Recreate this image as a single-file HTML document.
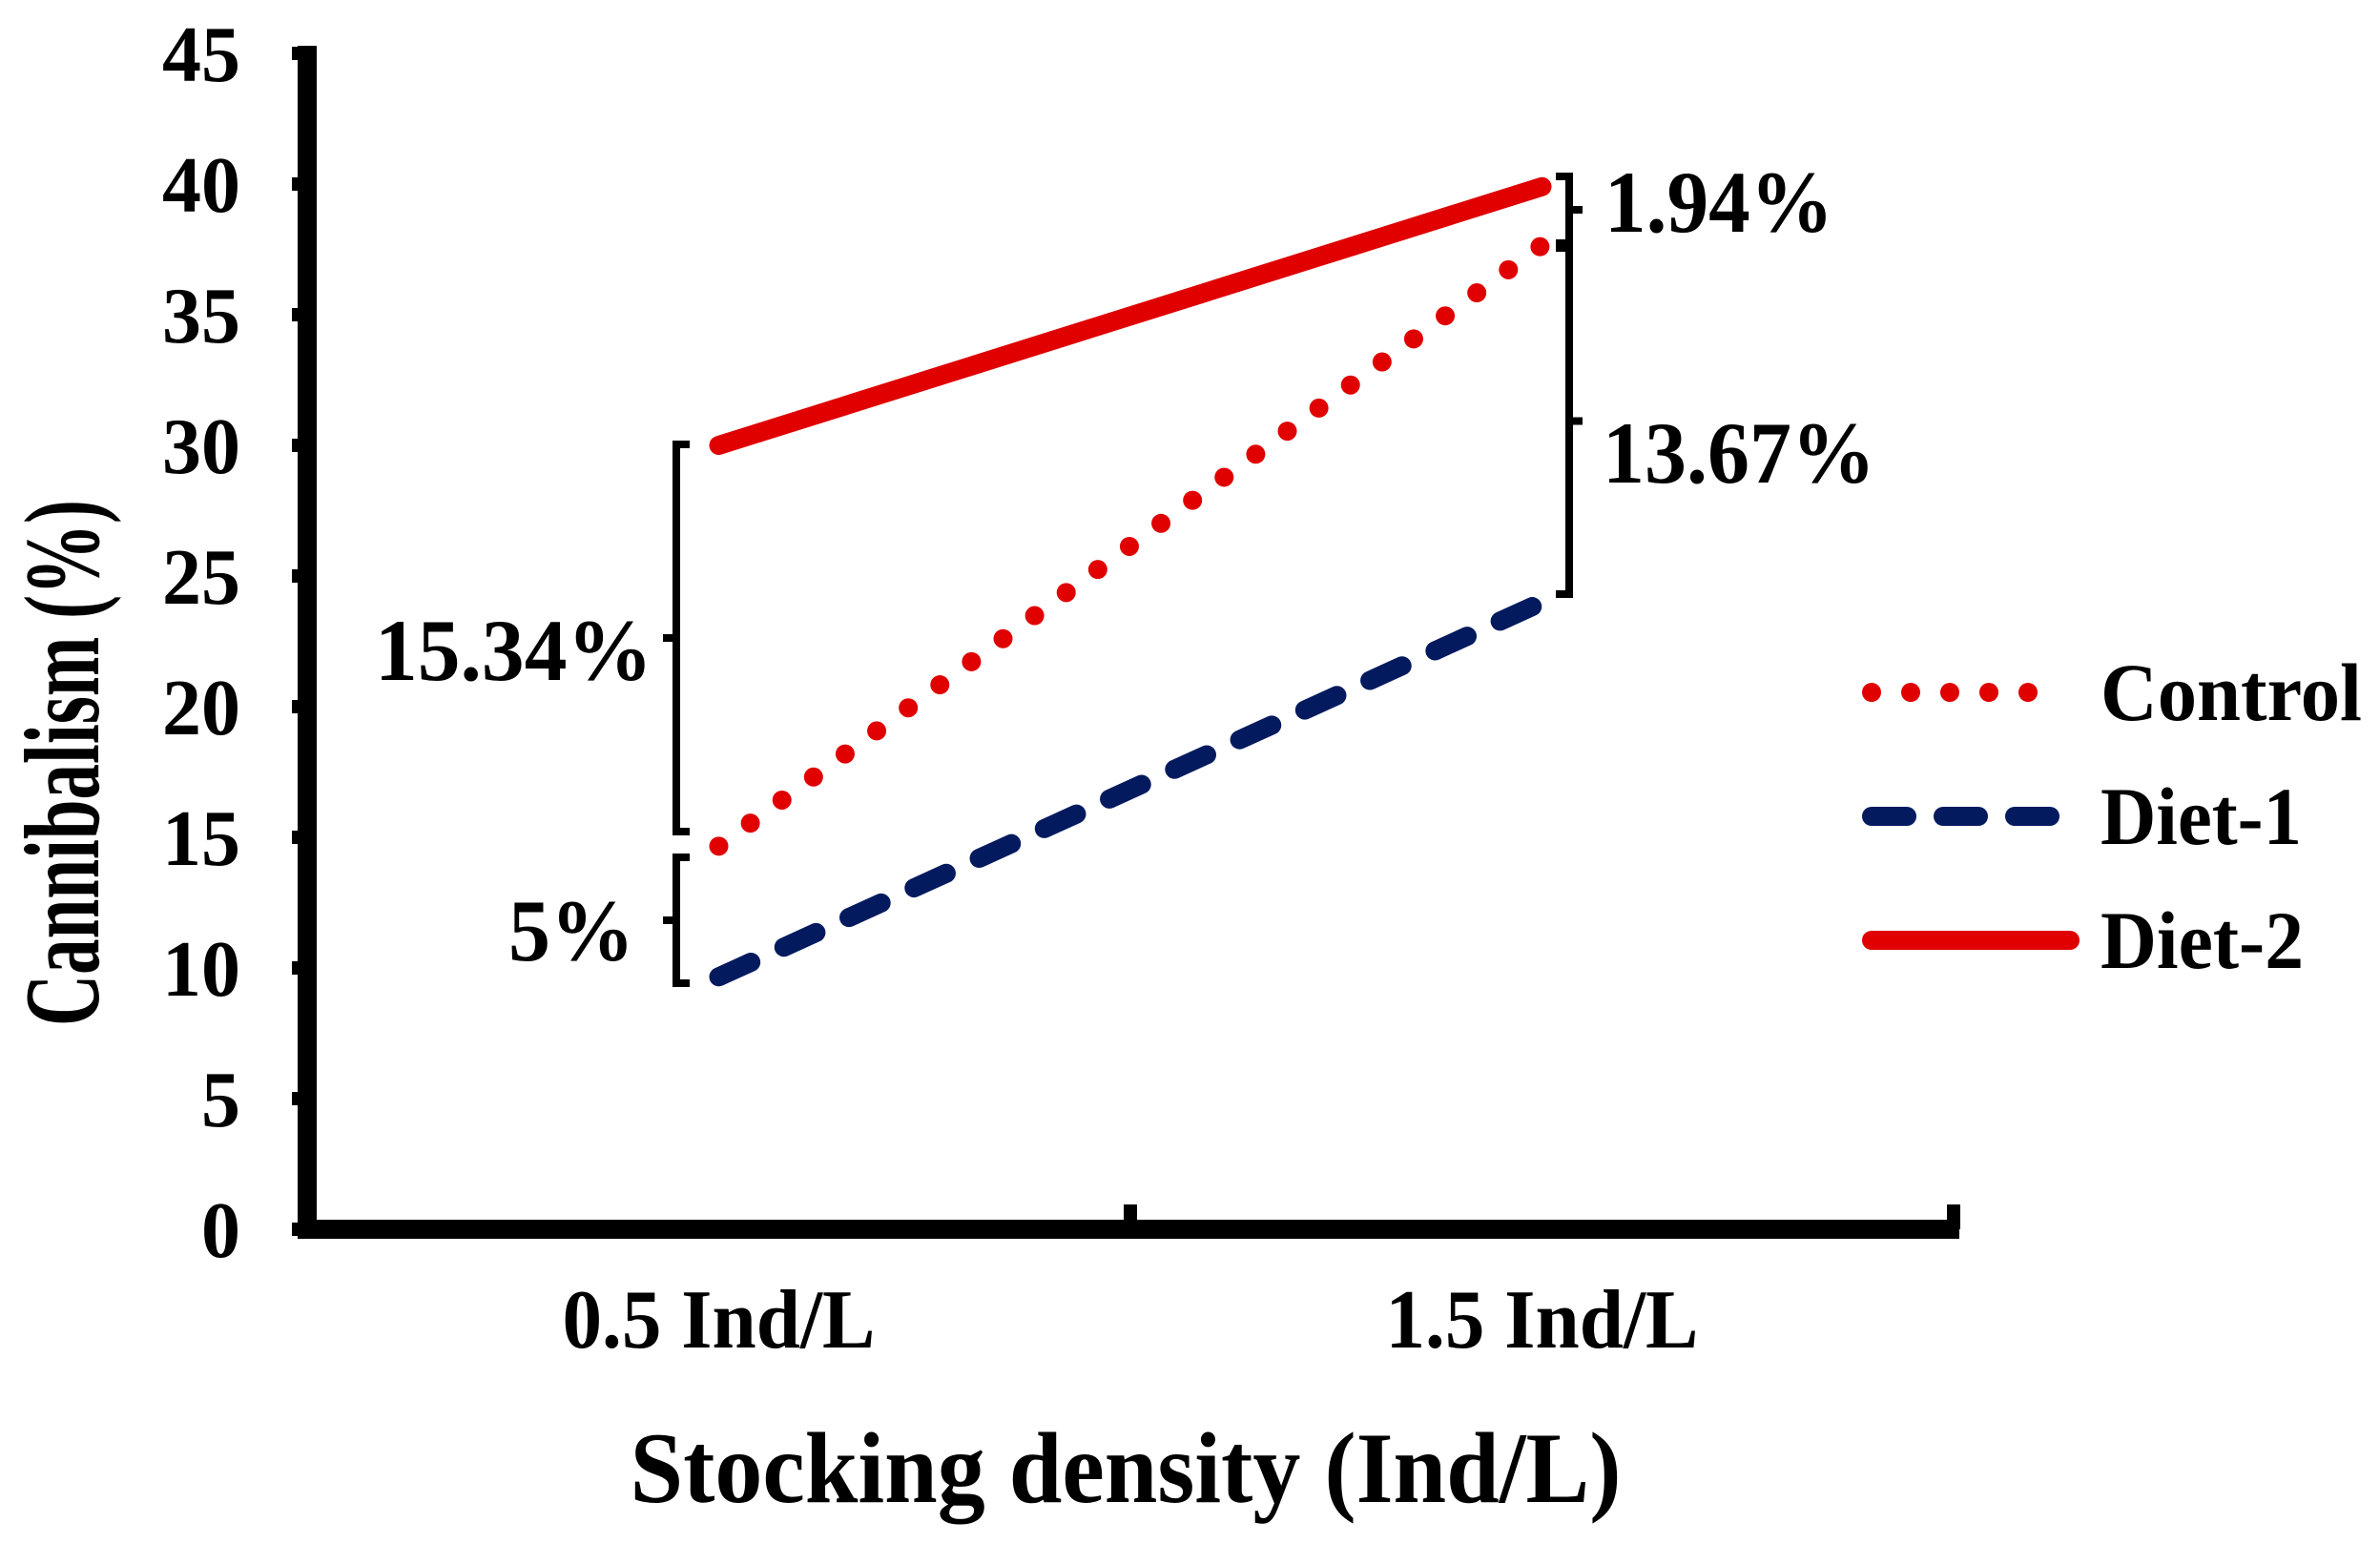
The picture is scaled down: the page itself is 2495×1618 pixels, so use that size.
<!DOCTYPE html>
<html><head><meta charset="utf-8"><style>html,body{margin:0;padding:0;background:#fff}svg{display:block}text{font-family:"Liberation Serif",serif;font-weight:bold;fill:#000}</style></head>
<body>
<svg id="chart" width="2495" height="1618" viewBox="0 0 2495 1618" xmlns="http://www.w3.org/2000/svg"></svg>
<script>
const categories = ["0.5 Ind/L", "1.5 Ind/L"];
const controlValues = [14.66, 37.66];
const diet1Values = [9.66, 24.0];
const diet2Values = [30.0, 39.9];
const yTicks = [0, 5, 10, 15, 20, 25, 30, 35, 40, 45];
const seriesNames = ["Control", "Diet-1", "Diet-2"];

const NS = "http://www.w3.org/2000/svg";
const svg = document.getElementById("chart");
const X0 = 322, X1 = 2048, Y0 = 1289, YTOP = 56;
function yScale(v){ return Y0 - (v/45)*(Y0-YTOP); }
function xScale(i){ return X0 + (i+0.5)*(X1-X0)/categories.length; }
function mk(tag, attrs, parent){ const e=document.createElementNS(NS,tag); for(const k in attrs) e.setAttribute(k,attrs[k]); (parent||svg).appendChild(e); return e; }
function txt(s, attrs){ const t=mk("text",attrs); t.textContent=s; t.setAttribute("lengthAdjust","spacingAndGlyphs"); return t; }

let yAxis = mk("line",{x1:X0,y1:48,x2:X0,y2:Y0+10,stroke:"#000","stroke-width":20});


let xAxis = mk("line",{x1:X0-10,y1:Y0,x2:X1+6,y2:Y0,stroke:"#000","stroke-width":20});


[ (X0+X1)/2, X1 ].forEach(x=>{
  const t = mk("line",{x1:x,y1:Y0-26,x2:x,y2:Y0,stroke:"#000","stroke-width":14});
  
  
});
yTicks.forEach(v=>{
  const y=yScale(v);
  const tk=mk("line",{x1:X0-16,y1:y,x2:X0,y2:y,stroke:"#000","stroke-width":14});
  
  
  const s=String(v);
  const lb=txt(s,{x:252,y:y+29,"text-anchor":"end","font-size":84,textLength:s.length*41});
  
  
});
categories.forEach((c,i)=>{
  const lb=txt(c,{x:xScale(i),y:1413,"text-anchor":"middle","font-size":88,textLength:328});
  
  
});
let xt=txt("Stocking density (Ind/L)",{x:1180,y:1575,"text-anchor":"middle","font-size":106,textLength:1039});


let yt=txt("Cannibalism (%)",{x:0,y:0,"text-anchor":"middle","font-size":112,textLength:552,transform:"translate(103,800) rotate(-90)"});



const styles = [
  {vals:controlValues,color:"#e00000",dash:"0 41",name:"control-line"},
  {vals:diet1Values,color:"#031a5e",dash:"37 38",name:"diet1-line"},
  {vals:diet2Values,color:"#e00000",dash:"",name:"diet2-line"}
];
styles.forEach(s=>{
  const pts = s.vals.map((v,i)=>xScale(i)+","+yScale(v)).join(" ");
  const attrs={points:pts,fill:"none",stroke:s.color,"stroke-width":20,"stroke-linecap":"round"};
  if(s.dash) attrs["stroke-dasharray"]=s.dash;
  const pl=mk("polyline",attrs);
  
  
});

function bracket(x, yTop, yBot, dir, name){
  const arm = 14*dir;
  const mid=(yTop+yBot)/2;
  const d=`M${x-arm},${yTop} L${x},${yTop} L${x},${yBot} L${x-arm},${yBot} M${x},${mid} L${x+arm},${mid}`;
  const p=mk("path",{d:d,fill:"none",stroke:"#000","stroke-width":8});
  
  
}
bracket(709,466,872,-1,"bracket-15-34");
bracket(709,899,1031,-1,"bracket-5");
bracket(1645,185,255,1,"bracket-1-94");
bracket(1645,260,623,1,"bracket-13-67");
[["15.34%",684,713,291,"end","label-15-34"],["5%",665,1007,132,"end","label-5"],["1.94%",1682,243,240,"start","label-1-94"],["13.67%",1680,506,286,"start","label-13-67"]].forEach(a=>{
  const t=txt(a[0],{x:a[1],y:a[2],"text-anchor":a[4],"font-size":92,textLength:a[3]});
  
  
});

const legY=[726,856,986];
const legW=[274,211,213];
seriesNames.forEach((n,i)=>{
  const st=styles[i];
  const attrs={x1:1962,y1:legY[i],x2:i==2?2170:2166,y2:legY[i],stroke:st.color,"stroke-width":20,"stroke-linecap":"round"};
  if(st.dash) attrs["stroke-dasharray"]=st.dash;
  const l=mk("line",attrs);
  
  
  const t=txt(n,{x:2202,y:legY[i]+29,"font-size":86,textLength:legW[i]});
  
  
});
</script>
</body></html>
